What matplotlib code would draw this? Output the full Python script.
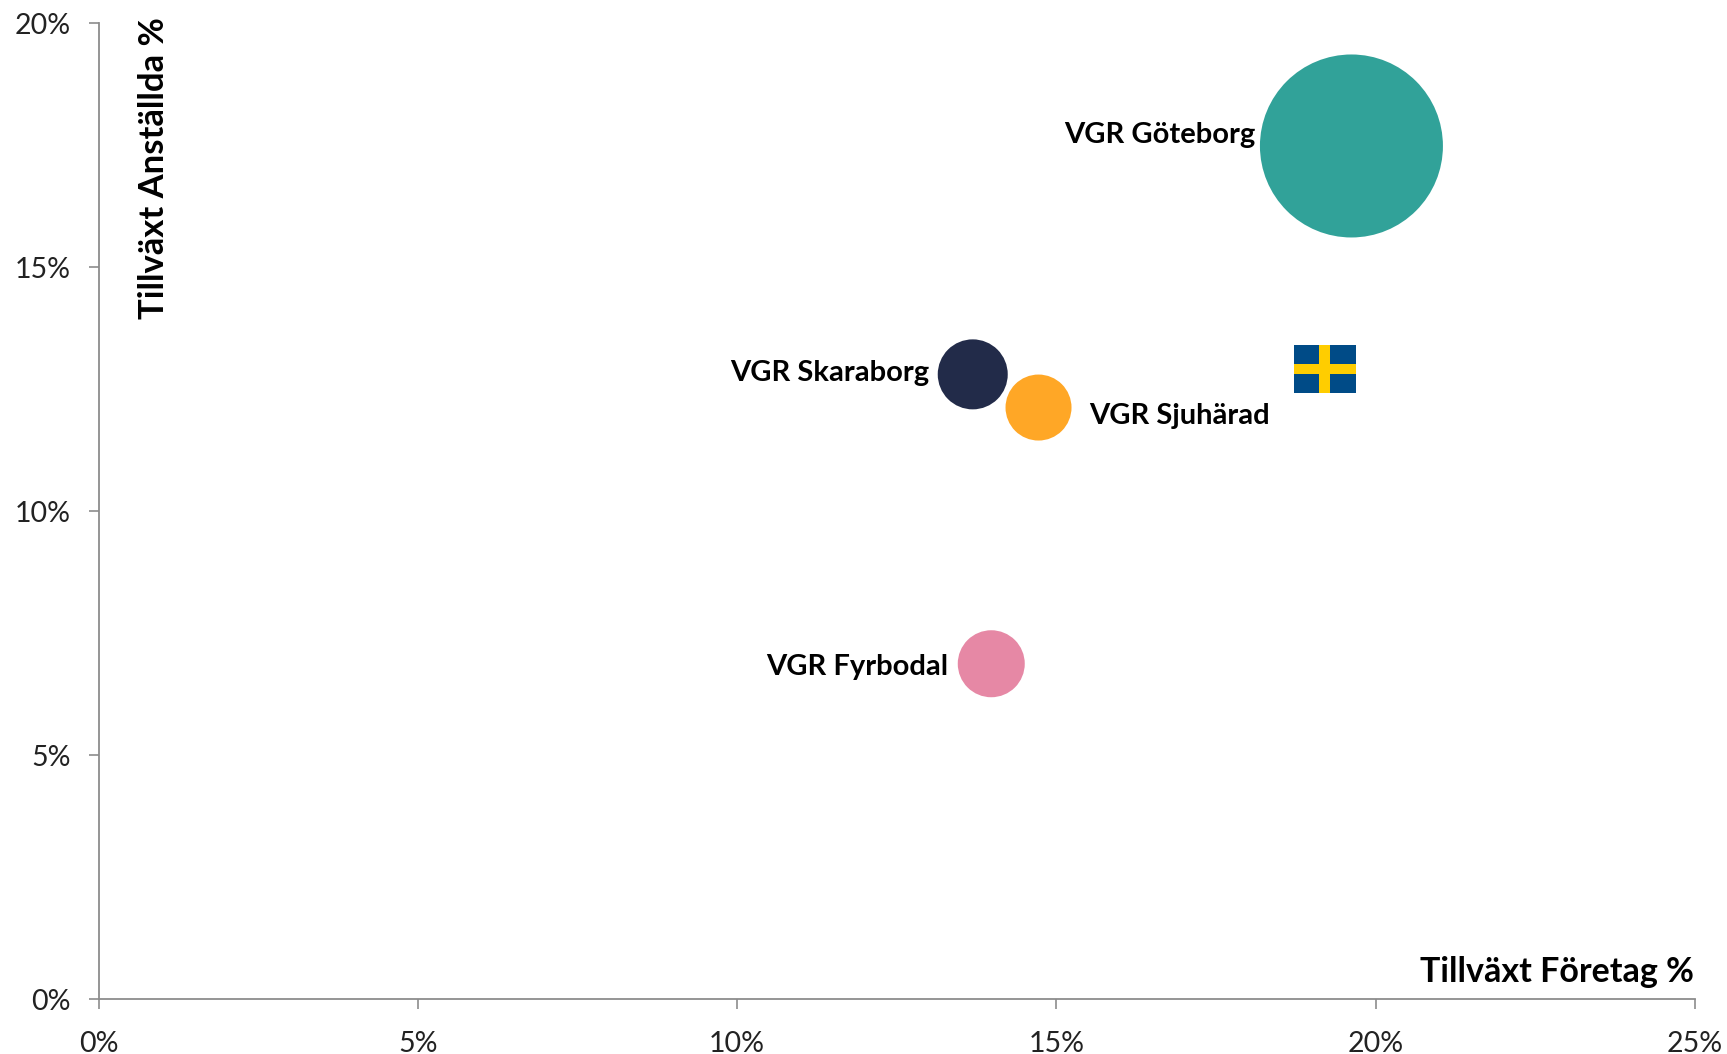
import matplotlib
matplotlib.use('Agg')
import matplotlib.pyplot as plt
from matplotlib.offsetbox import AnnotationBbox, DrawingArea
from matplotlib.patches import Rectangle
from matplotlib.ticker import PercentFormatter

regions = ['VGR Göteborg', 'VGR Skaraborg', 'VGR Sjuhärad', 'VGR Fyrbodal']
growth_companies = [19.62, 13.69, 14.72, 13.98]
growth_employees = [17.48, 12.8, 12.12, 6.87]
bubble_diameters = [183, 70, 66, 67]
colors = ['#31A299', '#222B49', '#FFA726', '#E688A5']
sweden_x = 19.205
sweden_y = 12.9

W, H = 1727, 1054
PX = 0.72  # pixels to points at dpi 100
plt.rcParams['font.family'] = ['Lato', 'DejaVu Sans']
fig = plt.figure(figsize=(W / 100, H / 100), dpi=100)
ax = fig.add_axes([98.5 / W, 1 - 999 / H, (1695 - 98.5) / W, (999 - 23) / H])

# scatter size is in points^2, diameters are in pixels
sizes = [(d * PX) ** 2 for d in bubble_diameters]
ax.scatter(growth_companies, growth_employees, s=sizes, c=colors, linewidths=0, zorder=3, clip_on=False)

# Swedish flag as a fixed size box at the country's value, 62x48 px
flag = DrawingArea(62 * PX, 48 * PX, 0, 0)
flag.add_artist(Rectangle((0, 0), 62 * PX, 48 * PX, fc='#004B87', lw=0))
flag.add_artist(Rectangle((25.5 * PX, 0), 10.5 * PX, 48 * PX, fc='#FFCD00', lw=0))
flag.add_artist(Rectangle((0, 19 * PX), 62 * PX, 10.5 * PX, fc='#FFCD00', lw=0))
ax.add_artist(AnnotationBbox(flag, (sweden_x, sweden_y), frameon=False, pad=0, box_alignment=(0.5, 0.5), zorder=4))

ax.set_xlim(0, 25)
ax.set_ylim(0, 20)
ax.set_xticks(range(0, 26, 5))
ax.set_yticks(range(0, 21, 5))
ax.xaxis.set_major_formatter(PercentFormatter(decimals=0))
ax.yaxis.set_major_formatter(PercentFormatter(decimals=0))
ax.tick_params(labelsize=20.5, length=7.2, width=1.2, color='#8C8C8C', labelcolor='#222222')
ax.tick_params(axis='y', pad=13)
ax.tick_params(axis='x', pad=16)
ax.spines['top'].set_visible(False)
ax.spines['right'].set_visible(False)
ax.spines['left'].set_color('#8C8C8C')
ax.spines['bottom'].set_color('#8C8C8C')
ax.spines['left'].set_linewidth(1.3)
ax.spines['bottom'].set_linewidth(1.3)

label_x = [1255, 929, 1089, 948]
label_y = [135, 373, 416, 667]
aligns = ['right', 'right', 'left', 'right']
for name, lx, ly, ha in zip(regions, label_x, label_y, aligns):
    fig.text(lx / W, 1 - ly / H, name, fontsize=21, fontweight='bold', ha=ha, va='center', color='black')

fig.text(1694 / W, 1 - 972 / H, 'Tillväxt Företag %', fontsize=24.5, fontweight='bold', ha='right', va='center', color='black')
fig.text(154 / W, 1 - 17 / H, 'Tillväxt Anställda %', fontsize=24.9, fontweight='bold', rotation=90, ha='center', va='top', color='black')

fig.savefig('out.png', dpi=100)
